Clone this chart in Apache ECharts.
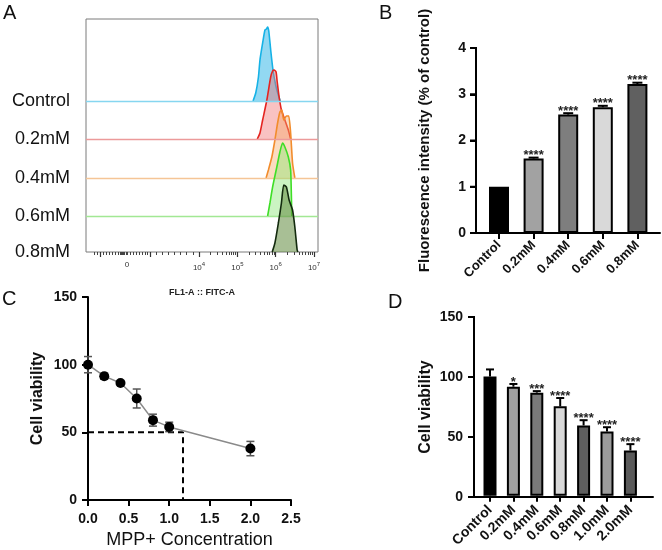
<!DOCTYPE html>
<html><head><meta charset="utf-8">
<script src="https://cdn.jsdelivr.net/npm/echarts@6/dist/echarts.min.js"></script>
<style>html,body{margin:0;padding:0;background:#fff}#c{width:662px;height:550px}</style>
</head><body><div id="c"></div>
<script>
// ---------- Panel A: flow cytometry histograms (x in log10 decades, y = relative count) ----------
const groupsA = ['Control', '0.2mM', '0.4mM', '0.6mM', '0.8mM'];
const histControl = [[5.41,0],[5.48,8],[5.55,24],[5.59,41],[5.66,58],[5.72,71],[5.76,72],[5.79,74],[5.82,70],[5.87,51],[5.93,31],[6.00,16],[6.06,7],[6.12,0]];
const hist02 = [[5.52,0],[5.59,6],[5.66,19],[5.77,39],[5.87,62],[5.92,68],[5.96,69],[6.01,67],[6.04,57],[6.09,42],[6.15,29],[6.24,19],[6.33,9],[6.39,0]];
const hist04 = [[5.75,0],[5.81,8],[5.90,21],[5.98,38],[6.05,55],[6.11,66],[6.16,68],[6.21,58],[6.28,62],[6.34,62],[6.39,45],[6.44,15],[6.50,0]];
const hist06 = [[5.79,0],[5.85,13],[5.92,29],[6.03,49],[6.11,64],[6.18,73],[6.24,69],[6.33,59],[6.39,46],[6.41,20],[6.42,0]];
const hist08 = [[5.91,0],[5.98,9],[6.07,29],[6.15,49],[6.21,67],[6.28,65],[6.35,52],[6.44,42],[6.50,25],[6.56,2],[6.58,0]];
const tickValuesA = [2.12, 4, 5, 6, 7];
const tickTextA = ['0', '10^4', '10^5', '10^6', '10^7'];
const axisTitleA = 'FL1-A :: FITC-A';

// ---------- Panel B: fluorescence intensity ----------
const catsB = ['Control', '0.2mM', '0.4mM', '0.6mM', '0.8mM'];
const meanB = [1.0, 1.61, 2.56, 2.72, 3.22];
const errB = [0, 0.02, 0.03, 0.03, 0.03];
const starsB = ['', '****', '****', '****', '****'];
const yTitleB = 'Fluorescence intensity (% of control)';

// ---------- Panel C: dose response ----------
const concC = [0, 0.2, 0.4, 0.6, 0.8, 1.0, 2.0];
const viabC = [100, 91.5, 86.5, 75, 59, 54, 38];
const errC = [6, 2.3, 1.3, 7, 4.4, 3.5, 5.3];
const ic50C = [[0, 50], [1.17, 50], [1.17, 0]];
const xTitleC = 'MPP+ Concentration';
const yTitleC = 'Cell viability';

// ---------- Panel D: cell viability bars ----------
const catsD = ['Control', '0.2mM', '0.4mM', '0.6mM', '0.8mM', '1.0mM', '2.0mM'];
const meanD = [100, 91.5, 86.5, 75, 59, 54, 38];
const errD = [6, 2.3, 1.3, 7, 4.4, 3.5, 5.3];
const starsD = ['', '*', '***', '****', '****', '****', '****'];

// ---------- styles ----------
const FONT = "'Liberation Sans', Arial, sans-serif";
const histStyles = [
  {line:'#16b2e6', fill:'rgba(40,178,230,0.72)', base:'#86d6f0'},
  {line:'#e42420', fill:'rgba(240,110,110,0.6)', base:'#ec9a9a'},
  {line:'#f28c2c', fill:'rgba(246,172,105,0.6)', base:'#f5c596'},
  {line:'#3ede26', fill:'rgba(130,228,110,0.6)', base:'#a2e894'},
  {line:'#132a0e', fill:'rgba(100,140,66,0.8)', base:'#555'}
];
const colorsB = ['#000000', '#a2a2a2', '#7e7e7e', '#d9d9d9', '#606060'];
const colorsD = ['#000000', '#a0a0a0', '#7a7a7a', '#d8d8d8', '#5e5e5e', '#9c9c9c', '#5a5a5a'];

const hists = [histControl, hist02, hist04, hist06, hist08];
const xMinA = 1.052, xMaxA = 7.104;
const histBaselines = [101, 139, 178, 216, 252];

// minor ticks (axis decoration) for the biexponential axis
const minorA = [];
for (let d = 4; d <= 6; d++) for (let k = 2; k <= 9; k++) minorA.push(d + Math.log10(k));
[2.88,3.04,3.20,3.36,3.52,3.68,3.84].forEach(v => minorA.push(v));
[1.26,1.34,1.50,1.58,1.66,1.74,1.82,1.90,1.94,1.97,2.00,2.03,2.06,2.09,2.12,2.20,2.28,2.36,2.44,2.52,2.60,2.66].forEach(v => minorA.push(v));
const majorA = [1.42, 2.72, 4, 5, 6, 7];

const grids = [], xAxes = [], yAxes = [], series = [];
const blk = () => ({color:'#000', width:2});
const tick = () => ({show:true, length:6, lineStyle:{color:'#000', width:2}});

// frame grid A
grids.push({left:86, top:19, width:232, height:233, show:true, borderColor:'#7a7a7a', borderWidth:1, backgroundColor:'transparent'});
xAxes.push({gridIndex:0, type:'value', min:xMinA, max:xMaxA, position:'bottom',
  axisLine:{show:false}, splitLine:{show:false},
  axisTick:{show:true, customValues:majorA, length:5, lineStyle:{color:'#333', width:1.2}},
  axisLabel:{show:true, customValues:tickValuesA, margin:9, fontFamily:FONT, fontSize:8, color:'#333',
    formatter: v => { let i = 0; tickValuesA.forEach((t,j)=>{ if (Math.abs(t-v) < Math.abs(tickValuesA[i]-v)) i=j; });
      const t = tickTextA[i] || ''; if (t.indexOf('^')>0) { const p=t.split('^'); return p[0]+'{sup|'+p[1]+'}'; } return t; },
    rich:{sup:{fontSize:6, padding:[0,0,7,0], fontFamily:FONT, color:'#333'}}},
  name:axisTitleA, nameLocation:'middle', nameGap:36, nameTextStyle:{fontFamily:FONT, fontSize:9, color:'#222', fontWeight:'bold'}});
xAxes.push({gridIndex:0, type:'value', min:xMinA, max:xMaxA, position:'bottom',
  axisLine:{show:false}, splitLine:{show:false}, axisLabel:{show:false},
  axisTick:{show:true, customValues:minorA, length:3, lineStyle:{color:'#444', width:1}}});
yAxes.push({gridIndex:0, type:'value', min:0, max:1, show:false});

hists.forEach((h, i) => {
  const gi = grids.length;
  grids.push({left:86, width:232, top:histBaselines[i]-100, height:100});
  xAxes.push({gridIndex:gi, type:'value', min:xMinA, max:xMaxA, show:false});
  yAxes.push({gridIndex:gi, type:'value', min:0, max:100, show:true,
    axisLine:{show:false}, axisTick:{show:false}, splitLine:{show:false},
    axisLabel:{show:true, customValues:[0], margin:16, fontFamily:FONT, fontSize:18, color:'#111',
      formatter: v => (v === 0 ? groupsA[i] : '')}});
  const st = histStyles[i];
  const s = {type:'line', xAxisIndex:xAxes.length-1, yAxisIndex:yAxes.length-1, data:h,
    showSymbol:false, symbol:'none', smooth:0.2, animation:false, z:2+i,
    lineStyle:{color:st.line, width:1.6}, areaStyle:{color:st.fill, origin:'start'}};
  if (i < 4) s.markLine = {silent:true, symbol:'none', animation:false, label:{show:false},
    lineStyle:{color:st.base, width:1.4, type:'solid'}, data:[{yAxis:0}]};
  series.push(s);
});

// error bar / stars renderer
function errRender(stars, capHalf, lw, color, both, fs) {
  return function (params, api) {
    const x = api.value(0), m = api.value(1), e = api.value(2);
    const top = api.coord([x, m + e]);
    const bot = api.coord([x, both ? m - e : m]);
    const ch = [];
    const st = {stroke:color, lineWidth:lw};
    if (e > 0) {
      ch.push({type:'line', shape:{x1:top[0], y1:top[1], x2:bot[0], y2:bot[1]}, style:st});
      ch.push({type:'line', shape:{x1:top[0]-capHalf, y1:top[1], x2:top[0]+capHalf, y2:top[1]}, style:st});
      if (both) ch.push({type:'line', shape:{x1:bot[0]-capHalf, y1:bot[1], x2:bot[0]+capHalf, y2:bot[1]}, style:st});
    }
    const s = stars ? stars[params.dataIndex] : '';
    if (s) ch.push({type:'text', x:top[0], y:top[1]-2, style:{text:s, fontSize:fs, fontWeight:'bold', fill:'#222', align:'center', verticalAlign:'middle', fontFamily:FONT}});
    return {type:'group', children:ch};
  };
}

// vertical value-axis line and ticks, drawn through the axis scale (used where the native line does not show)
function axisRender(yMin, yMax) {
  return function (params, api) {
    const v = api.value(1);
    const p = api.coord([0, v]);
    const ch = [{type:'line', shape:{x1:p[0]-6, y1:p[1], x2:p[0], y2:p[1]}, style:{stroke:'#000', lineWidth:2}}];
    if (params.dataIndex === 0) {
      const a = api.coord([0, yMin]), b = api.coord([0, yMax]);
      ch.push({type:'line', shape:{x1:a[0], y1:a[1]+1, x2:b[0], y2:b[1]-1}, style:{stroke:'#000', lineWidth:2}});
    }
    return {type:'group', children:ch};
  };
}

// bar panel builder: category grid (bars) + wider decoration grid carrying the full-length axis lines
function barPanel(cats, means, errs, stars, colors, box, yOpt, fontX, marginX, barW, capHalf) {
  const gd = grids.length;
  grids.push({left:box.axisLeft, top:box.top, width:box.axisWidth, height:box.height});
  xAxes.push({gridIndex:gd, type:'value', min:0, max:1, interval:1, splitLine:{show:false},
    axisTick:{show:false}, axisLabel:{show:false},
    axisLine:{show:true, onZero:false, lineStyle:blk()}});
  yAxes.push(Object.assign({gridIndex:gd, type:'value', splitLine:{show:false},
    axisLine:{show:true, onZero:false, lineStyle:blk()}, axisTick:tick(),
    axisLabel:{show:true, margin:yOpt.margin, fontFamily:FONT, fontSize:14, fontWeight:'bold', color:'#111'},
    name:yOpt.name, nameLocation:'middle', nameGap:yOpt.nameGap,
    nameTextStyle:{fontFamily:FONT, fontSize:yOpt.nameSize, fontWeight:'bold', color:'#111'}}, yOpt.scale));
  const ticks = [];
  for (let v = yOpt.scale.min; v <= yOpt.scale.max + 1e-9; v += yOpt.scale.interval) ticks.push([0, v]);
  series.push({type:'custom', xAxisIndex:xAxes.length-1, yAxisIndex:yAxes.length-1, animation:false, clip:false, z:6, silent:true,
    data:ticks, renderItem: axisRender(yOpt.scale.min, yOpt.scale.max)});
  const gi = grids.length;
  grids.push({left:box.bandLeft, top:box.top, width:box.bandWidth, height:box.height});
  xAxes.push({gridIndex:gi, type:'category', data:cats, boundaryGap:true,
    axisLine:{show:false}, splitLine:{show:false},
    axisTick:{show:true, alignWithLabel:true, length:6, lineStyle:{color:'#000', width:2}},
    axisLabel:{show:true, interval:0, rotate:45, margin:marginX, fontFamily:FONT, fontSize:fontX, fontWeight:'bold', color:'#111'}});
  yAxes.push(Object.assign({gridIndex:gi, type:'value', show:false, splitLine:{show:false}}, yOpt.scale));
  const xi = xAxes.length-1, yi = yAxes.length-1;
  series.push({type:'bar', xAxisIndex:xi, yAxisIndex:yi, barWidth:barW, animation:false,
    data: means.map((v,i)=>({value:v, itemStyle:{color:colors[i]}})),
    itemStyle:{borderColor:'#000', borderWidth:2}});
  series.push({type:'custom', xAxisIndex:xi, yAxisIndex:yi, animation:false, z:5,
    data: means.map((v,i)=>[i, v, errs[i]]), renderItem: errRender(stars, capHalf, 2, '#000', false, 13)});
}

// ---------- B ----------
barPanel(catsB, meanB, errB, starsB, colorsB,
  {axisLeft:476, axisWidth:184, bandLeft:481.7, bandWidth:173, top:48, height:185},
  {margin:10, name:yTitleB, nameGap:44, nameSize:15, scale:{min:0, max:4, interval:1}},
  13, 10, 20, 5);

// ---------- C ----------
{
  const gi = grids.length;
  grids.push({left:88, top:297, width:203, height:204});
  xAxes.push({gridIndex:gi, type:'value', min:0, max:2.5, interval:0.5, splitLine:{show:false},
    axisLine:{show:true, lineStyle:blk()}, axisTick:tick(),
    axisLabel:{margin:12, fontFamily:FONT, fontSize:14, fontWeight:'bold', color:'#111', formatter: v => v.toFixed(1)},
    name:xTitleC, nameLocation:'middle', nameGap:31, nameTextStyle:{fontFamily:FONT, fontSize:18, color:'#111'}});
  yAxes.push({gridIndex:gi, type:'value', min:0, max:150, interval:50, splitLine:{show:false},
    axisLine:{show:true, lineStyle:blk()}, axisTick:tick(),
    axisLabel:{margin:11, fontFamily:FONT, fontSize:14, fontWeight:'bold', color:'#111'},
    name:yTitleC, nameLocation:'middle', nameGap:42, nameTextStyle:{fontFamily:FONT, fontSize:16, fontWeight:'bold', color:'#111'}});
  const xi = xAxes.length-1, yi = yAxes.length-1;
  series.push({type:'line', xAxisIndex:xi, yAxisIndex:yi, data:ic50C, symbol:'none', animation:false, z:2,
    lineStyle:{color:'#000', width:2, type:[6,4]}});
  series.push({type:'custom', xAxisIndex:xi, yAxisIndex:yi, animation:false, z:3,
    data: concC.map((c,i)=>[c, viabC[i], errC[i]]), renderItem: errRender(null, 4, 1.5, '#555', true, 12)});
  series.push({type:'line', xAxisIndex:xi, yAxisIndex:yi, animation:false, z:4,
    data: concC.map((c,i)=>[c, viabC[i]]), symbol:'circle', symbolSize:10,
    lineStyle:{color:'#8a8a8a', width:1.5}, itemStyle:{color:'#000'}});
}

// ---------- D ----------
barPanel(catsD, meanD, errD, starsD, colorsD,
  {axisLeft:474, axisWidth:179, bandLeft:478.3, bandWidth:163.8, top:317, height:180},
  {margin:11, name:yTitleC, nameGap:40, nameSize:16, scale:{min:0, max:150, interval:50}},
  14, 12, 13, 4);

const chart = echarts.init(document.getElementById('c'), null, {renderer:'canvas'});
chart.setOption({
  animation:false, backgroundColor:'#fff',
  grid:grids, xAxis:xAxes, yAxis:yAxes, series:series,
  graphic:[
    {type:'text', left:3, top:3, style:{text:'A', fontSize:20, fontFamily:FONT, fill:'#111'}},
    {type:'text', left:379, top:3, style:{text:'B', fontSize:20, fontFamily:FONT, fill:'#111'}},
    {type:'text', left:2, top:289, style:{text:'C', fontSize:20, fontFamily:FONT, fill:'#111'}},
    {type:'text', left:388, top:292, style:{text:'D', fontSize:20, fontFamily:FONT, fill:'#111'}}
  ]
});
</script></body></html>
